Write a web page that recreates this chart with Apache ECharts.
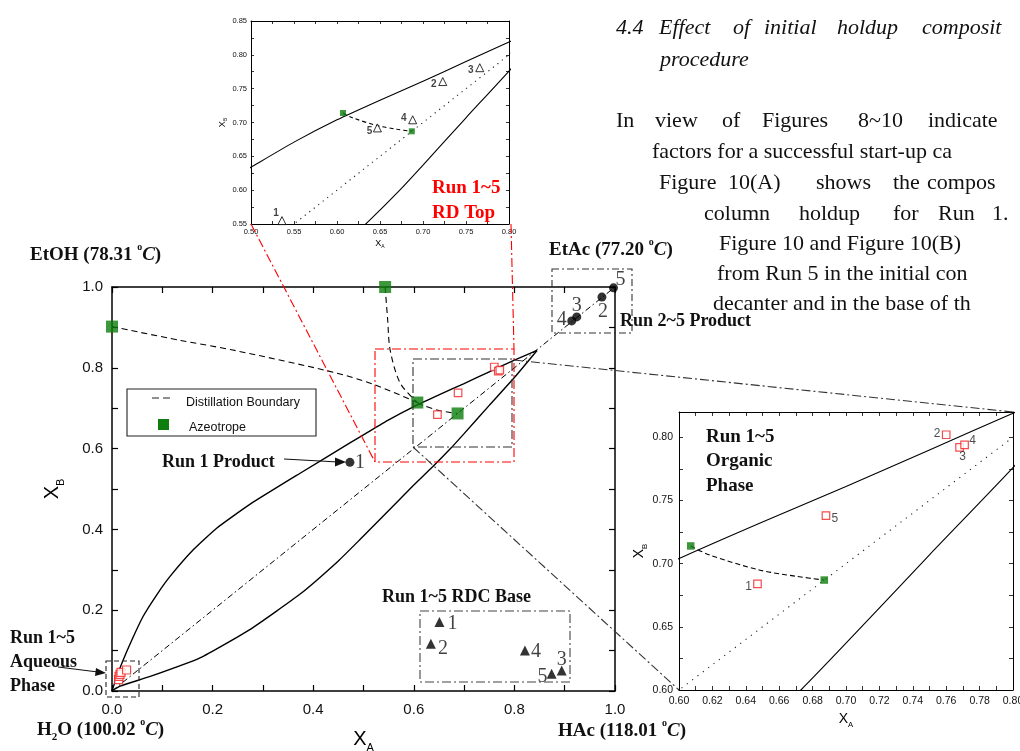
<!DOCTYPE html>
<html>
<head>
<meta charset="utf-8">
<script src="https://cdn.jsdelivr.net/npm/echarts@6/dist/echarts.min.js"></script>
<style>
html,body{margin:0;padding:0;background:#fff}
#chart-panel{width:1020px;height:751px}
</style>
</head>
<body>
<div id="chart-panel"></div>
<script>
// curves (X_A, X_B)
var upperX = [0, 0.008, 0.02, 0.039, 0.062, 0.09, 0.115, 0.162, 0.208, 0.274, 0.374, 0.473, 0.50, 0.55, 0.60, 0.65, 0.70, 0.75, 0.80, 0.845];
var upperY = [0, 0.030, 0.070, 0.125, 0.185, 0.240, 0.283, 0.350, 0.403, 0.462, 0.539, 0.614, 0.634, 0.671, 0.704, 0.733, 0.761, 0.790, 0.819, 0.843];
var lowerX = [0, 0.016, 0.076, 0.175, 0.274, 0.374, 0.45, 0.493, 0.559, 0.60, 0.636, 0.673, 0.70, 0.75, 0.80, 0.845];
var lowerY = [0, 0.012, 0.036, 0.082, 0.152, 0.240, 0.322, 0.375, 0.458, 0.510, 0.553, 0.600, 0.637, 0.707, 0.776, 0.843];
var diagX = [0, 1];
var diagY = [0, 1];
// distillation boundaries
var bound1X = [0, 0.135, 0.24, 0.44, 0.52, 0.607];
var bound1Y = [0.902, 0.868, 0.844, 0.789, 0.759, 0.714];
var bound2X = [0.543, 0.548, 0.553, 0.573, 0.607];
var bound2Y = [1.0, 0.92, 0.844, 0.762, 0.714];
var bound3X = [0.607, 0.618, 0.648, 0.670, 0.687];
var bound3Y = [0.714, 0.707, 0.695, 0.690, 0.687];
// azeotropes
var azeoX = [0, 0.543, 0.607, 0.687];
var azeoY = [0.902, 1.0, 0.714, 0.687];
// run points
var runs = ['1', '2', '3', '4', '5'];
var orgX = [0.647, 0.760, 0.768, 0.771, 0.688];
var orgY = [0.684, 0.802, 0.792, 0.794, 0.738];
var aqX = [0.013, 0.014, 0.016, 0.018, 0.029];
var aqY = [0.028, 0.036, 0.041, 0.046, 0.052];
var prodX = [0.473, 0.974, 0.924, 0.914, 0.997];
var prodY = [0.566, 0.975, 0.926, 0.916, 0.998];
var baseX = [0.651, 0.634, 0.894, 0.821, 0.874];
var baseY = [0.171, 0.117, 0.051, 0.100, 0.043];
var topX = [0.536, 0.723, 0.766, 0.688, 0.647];
var topY = [0.555, 0.7605, 0.781, 0.704, 0.692];

// label offsets (pixels)
var prodOff = [[10, 0], [1, 15], [0, -11], [-10, -1], [7, -8]];
var baseOff = [[13, 2], [12, 5], [0, -11], [11, 1], [-9, 3]];
var orgOff = [[-9, 3], [-9, -1], [3, 9], [8, -4], [9, 3]];
var topOff = [[-6, -7], [-9, 3], [-9, 3], [-9, -2], [-8, 3]];

var SANS = '"Liberation Sans", Arial, sans-serif';
var SERIF = '"Liberation Serif", "Times New Roman", serif';

function pts(xs, ys) {
	var res = [];
	for (var i = 0; i < xs.length; i++) res.push([xs[i], ys[i]]);
	return res;
}
function labeled(xs, ys, off) {
	var res = [];
	for (var i = 0; i < xs.length; i++) {
		res.push({ name: runs[i], value: [xs[i], ys[i]], label: { offset: off[i] } });
	}
	return res;
}
function line(g, xs, ys, color, width, type, smooth) {
	return {
		type: 'line', xAxisIndex: g, yAxisIndex: g, data: pts(xs, ys),
		symbol: 'none', smooth: smooth || false, silent: true,
		lineStyle: { color: color, width: width, type: type }
	};
}
function fmtMain(v) { return Math.round(v * 10) % 2 === 0 ? v.toFixed(1) : ''; }
function fmt005(v) { return Math.round(v * 1000) % 50 === 0 ? v.toFixed(2) : ''; }
function fmt002(v) { return Math.round(v * 100) % 2 === 0 ? v.toFixed(2) : ''; }

function axis(g, pos, min, max, step, fmt, fs, lw, tl, margin) {
	return {
		type: 'value', gridIndex: g, position: pos, min: min, max: max, interval: step,
		axisLine: { show: true, onZero: false, lineStyle: { color: '#000', width: lw } },
		axisTick: { show: true, inside: true, length: tl, lineStyle: { color: '#000', width: lw * 0.8 } },
		axisLabel: { show: !!fmt, formatter: fmt, fontSize: fs, color: '#111', fontFamily: SANS, margin: margin },
		splitLine: { show: false }
	};
}

var xAxes = [
	axis(0, 'bottom', 0, 1, 0.1, fmtMain, 15, 1.5, 6, 11),
	axis(0, 'top', 0, 1, 0.1, null, 15, 1.5, 6, 8),
	axis(1, 'bottom', 0.5, 0.8, 0.025, fmt005, 7.5, 1, 3, 4),
	axis(1, 'top', 0.5, 0.8, 0.025, null, 7.5, 1, 3, 4),
	axis(2, 'bottom', 0.6, 0.8, 0.01, fmt002, 10.5, 1, 4, 6),
	axis(2, 'top', 0.6, 0.8, 0.01, null, 10.5, 1, 4, 6)
];
var yAxes = [
	axis(0, 'left', 0, 1, 0.1, fmtMain, 15, 1.5, 6, 9),
	axis(0, 'right', 0, 1, 0.1, null, 15, 1.5, 6, 8),
	axis(1, 'left', 0.55, 0.85, 0.025, fmt005, 7.5, 1, 3, 4),
	axis(1, 'right', 0.55, 0.85, 0.025, null, 7.5, 1, 3, 4),
	axis(2, 'left', 0.6, 0.82, 0.025, fmt005, 10.5, 1, 4, 6),
	axis(2, 'right', 0.6, 0.82, 0.025, null, 10.5, 1, 4, 6)
];
function axName(ax, fs, gap, rot) {
	ax.name = 'X{s|' + (rot ? 'B' : 'A') + '}';
	ax.nameLocation = 'middle';
	ax.nameGap = gap;
	ax.nameRotate = rot ? 90 : 0;
	ax.nameTextStyle = {
		fontSize: fs, fontFamily: SANS, color: '#000', lineHeight: fs * 1.4,
		rich: { s: { fontSize: fs * 0.55, fontFamily: SANS, color: '#000', verticalAlign: 'bottom', lineHeight: fs * 0.7 } }
	};
}
axName(xAxes[0], 20, 34, false);
axName(yAxes[0], 20, 46, true);
axName(xAxes[2], 9, 12, false);
axName(yAxes[2], 9, 20, true);
axName(xAxes[4], 14, 19, false);
axName(yAxes[4], 14, 28, true);

var series = [
	// main
	line(0, upperX, upperY, '#000', 1.4, 'solid', 0.15),
	line(0, lowerX, lowerY, '#000', 1.4, 'solid', 0.15),
	line(0, diagX, diagY, '#000', 1, [6, 3, 1.5, 3]),
	line(0, bound1X, bound1Y, '#000', 1.1, [6, 4], 0.3),
	line(0, bound2X, bound2Y, '#000', 1.1, [6, 4], 0.3),
	line(0, bound3X, bound3Y, '#000', 1.1, [6, 4], 0.3),
	{
		type: 'scatter', xAxisIndex: 0, yAxisIndex: 0, symbol: 'rect', symbolSize: 7.5,
		itemStyle: { color: '#fff', borderColor: '#f02020', borderWidth: 1.2 },
		data: pts(orgX, orgY), z: 4
	},
	{
		type: 'scatter', xAxisIndex: 0, yAxisIndex: 0, symbol: 'rect', symbolSize: 8,
		itemStyle: { color: '#fff', borderColor: '#f02020', borderWidth: 1.2 },
		data: pts(aqX, aqY), z: 4
	},
	{
		type: 'scatter', xAxisIndex: 0, yAxisIndex: 0, symbol: 'rect', symbolSize: 12,
		itemStyle: { color: '#0d7d0d' }, data: pts(azeoX, azeoY), z: 5
	},
	{
		type: 'scatter', xAxisIndex: 0, yAxisIndex: 0, symbol: 'circle', symbolSize: 9,
		itemStyle: { color: '#000' }, data: labeled(prodX, prodY, prodOff), z: 5,
		label: { show: true, position: 'inside', formatter: '{b}', fontFamily: SERIF, fontSize: 20, color: '#111' }
	},
	{
		type: 'scatter', xAxisIndex: 0, yAxisIndex: 0, symbol: 'triangle', symbolSize: 10,
		itemStyle: { color: '#000' }, data: labeled(baseX, baseY, baseOff), z: 5,
		label: { show: true, position: 'inside', formatter: '{b}', fontFamily: SERIF, fontSize: 20, color: '#111' }
	},
	// top inset
	line(1, upperX, upperY, '#000', 1.1, 'solid', 0.15),
	line(1, lowerX, lowerY, '#000', 1.1, 'solid', 0.15),
	line(1, diagX, diagY, '#222', 1.1, [1.2, 4.5]),
	line(1, bound3X, bound3Y, '#000', 1.1, [4, 3], 0.3),
	{
		type: 'scatter', xAxisIndex: 1, yAxisIndex: 1, symbol: 'rect', symbolSize: 6,
		itemStyle: { color: '#0d7d0d' }, data: pts(azeoX, azeoY), z: 5
	},
	{
		type: 'scatter', xAxisIndex: 1, yAxisIndex: 1, symbol: 'triangle', symbolSize: 8,
		itemStyle: { color: '#fff', borderColor: '#000', borderWidth: 1 }, data: labeled(topX, topY, topOff), z: 5,
		label: { show: true, position: 'inside', formatter: '{b}', fontFamily: SANS, fontWeight: 'bold', fontSize: 10, color: '#111' }
	},
	// right inset
	line(2, upperX, upperY, '#000', 1.1, 'solid', 0.15),
	line(2, lowerX, lowerY, '#000', 1.1, 'solid', 0.15),
	line(2, diagX, diagY, '#222', 1.1, [1.2, 5.5]),
	line(2, bound3X, bound3Y, '#000', 1.1, [5, 3], 0.3),
	{
		type: 'scatter', xAxisIndex: 2, yAxisIndex: 2, symbol: 'rect', symbolSize: 7.5,
		itemStyle: { color: '#0d7d0d' }, data: pts(azeoX, azeoY), z: 5
	},
	{
		type: 'scatter', xAxisIndex: 2, yAxisIndex: 2, symbol: 'rect', symbolSize: 7.5,
		itemStyle: { color: '#fff', borderColor: '#f02020', borderWidth: 1.2 }, data: labeled(orgX, orgY, orgOff), z: 5,
		label: { show: true, position: 'inside', formatter: '{b}', fontFamily: SANS, fontSize: 12, color: '#222' }
	}
];

// annotation helpers
function txt(x, y, text, font, color, rich) {
	var st = { text: text, font: font, fill: color || '#111', align: 'left', verticalAlign: 'middle' };
	if (rich) st.rich = rich;
	return { type: 'text', x: x, y: y, z: 50, style: st };
}
function seg(x1, y1, x2, y2, color, dash, w) {
	return { type: 'line', z: 40, shape: { x1: x1, y1: y1, x2: x2, y2: y2 }, style: { stroke: color, lineWidth: w || 1.1, lineDash: dash } };
}
function box(x, y, w, h, color, dash) {
	return { type: 'rect', z: 40, shape: { x: x, y: y, width: w, height: h }, style: { fill: null, stroke: color, lineWidth: 1.1, lineDash: dash } };
}
var DD = [9, 3, 2, 3];
var tempRich = {
	b: { font: 'bold 19px ' + SERIF, fill: '#111', lineHeight: 26 },
	o: { font: 'bold 10px ' + SERIF, fill: '#111', verticalAlign: 'top', lineHeight: 26 },
	c: { font: 'italic bold 19px ' + SERIF, fill: '#111', lineHeight: 26 },
	s: { font: 'bold 11px ' + SERIF, fill: '#111', verticalAlign: 'bottom', lineHeight: 26 }
};
var BF = 'bold 18px ' + SERIF;
var P = '22px ' + SERIF;
var PI = 'italic 22px ' + SERIF;

var graphic = [
	// zoom boxes and connectors
	box(375, 349, 139, 113, '#ff0000', DD),
	seg(251, 224, 375, 462, '#ff0000', DD),
	seg(511, 224, 514, 349, '#ff0000', DD),
	box(413, 359, 99, 88, '#333', DD),
	seg(514, 360, 1013, 412, '#333', DD),
	seg(413, 447, 679, 690, '#333', DD),
	box(552, 269, 80, 64, '#333', [7, 3, 2, 3]),
	box(420, 611, 150, 71, '#444', DD),
	box(106, 661, 33, 36, '#222', [5, 3]),
	// arrows
	seg(284, 459, 338, 462, '#111', null, 1.2),
	{ type: 'polygon', z: 50, shape: { points: [[346, 462], [335, 457.5], [335, 466.5]] }, style: { fill: '#111' } },
	seg(58, 667, 98, 672, '#111', null, 1.2),
	{ type: 'polygon', z: 50, shape: { points: [[106, 673], [96, 668], [95, 676]] }, style: { fill: '#111' } },
	// legend
	box(127, 389, 189, 47, '#222', null),
	seg(152, 398, 173, 398, '#222', [7, 4], 1.1),
	{ type: 'rect', z: 50, shape: { x: 158, y: 419, width: 11, height: 11 }, style: { fill: '#0d7d0d' } },
	txt(186, 403, 'Distillation Boundary', '12.5px ' + SANS, '#111'),
	txt(189, 428, 'Azeotrope', '12.5px ' + SANS, '#111'),
	// component labels
	txt(30, 255, '{b|EtOH (78.31 }{o|o}{c|C}{b|)}', null, '#111', tempRich),
	txt(549, 250, '{b|EtAc (77.20 }{o|o}{c|C}{b|)}', null, '#111', tempRich),
	txt(37, 730, '{b|H}{s|2}{b|O (100.02 }{o|o}{c|C}{b|)}', null, '#111', tempRich),
	txt(558, 731, '{b|HAc (118.01 }{o|o}{c|C}{b|)}', null, '#111', tempRich),
	// run annotations
	txt(620, 321, 'Run 2~5 Product', BF),
	txt(382, 597, 'Run 1~5 RDC Base', BF),
	txt(162, 462, 'Run 1 Product', BF),
	txt(10, 638, 'Run 1~5', BF),
	txt(10, 662, 'Aqueous', BF),
	txt(10, 686, 'Phase', BF),
	txt(432, 188, 'Run 1~5', 'bold 19px ' + SERIF, '#ff0000'),
	txt(432, 213, 'RD Top', 'bold 19px ' + SERIF, '#ff0000'),
	txt(706, 437, 'Run 1~5', 'bold 19px ' + SERIF),
	txt(706, 461, 'Organic', 'bold 19px ' + SERIF),
	txt(706, 486, 'Phase', 'bold 19px ' + SERIF)
];

// page text to the right of the figure
var para = [
	[PI, 28, [['4.4', 616], ['Effect', 659], ['of', 733], ['initial', 764], ['holdup', 837], ['composit', 922]]],
	[PI, 60, [['procedure', 660]]],
	[P, 121, [['In', 616], ['view', 655], ['of', 722], ['Figures', 762], ['8~10', 858], ['indicate', 928]]],
	[P, 152, [['factors for a successful start-up ca', 652]]],
	[P, 183, [['Figure', 659], ['10(A)', 728], ['shows', 816], ['the', 893], ['compos', 927]]],
	[P, 214, [['column', 704], ['holdup', 799], ['for', 893], ['Run', 938], ['1.', 992]]],
	[P, 244, [['Figure 10 and Figure 10(B)', 719]]],
	[P, 274, [['from Run 5 in the initial con', 717]]],
	[P, 304, [['decanter and in the base of th', 713]]]
];
para.forEach(function (ln) {
	ln[2].forEach(function (w) {
		graphic.push(txt(w[1], ln[1], w[0], ln[0], '#111'));
	});
});

var option = {
	animation: false,
	backgroundColor: '#fff',
	grid: [
		{ left: 112, top: 287, width: 503, height: 404, containLabel: false, outerBoundsMode: 'none' },
		{ left: 251, top: 21, width: 258, height: 203, containLabel: false, outerBoundsMode: 'none', show: true, backgroundColor: '#fff', borderWidth: 0 },
		{ left: 679, top: 412, width: 334, height: 278, containLabel: false, outerBoundsMode: 'none', show: true, backgroundColor: '#fff', borderWidth: 0 }
	],
	xAxis: xAxes,
	yAxis: yAxes,
	series: series,
	graphic: graphic
};
// each grid owns a bottom/top x axis and a left/right y axis; series use the first pair
series.forEach(function (s) {
	var g = s.xAxisIndex;
	s.xAxisIndex = g * 2;
	s.yAxisIndex = g * 2;
});

var myChart = echarts.init(document.getElementById('chart-panel'));
myChart.setOption(option);
</script>
</body>
</html>
